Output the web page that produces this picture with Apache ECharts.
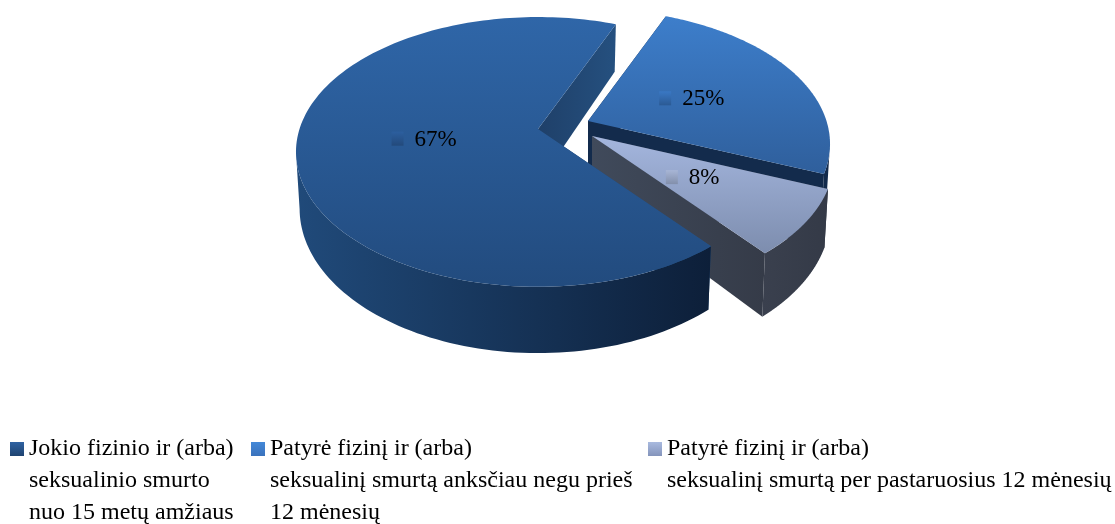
<!DOCTYPE html>
<html>
<head>
<meta charset="utf-8">
<style>
  html, body { margin: 0; padding: 0; background: #fff; }
  #main { width: 1115px; height: 524px; }
</style>
<script src="https://cdn.jsdelivr.net/npm/echarts@6/dist/echarts.min.js"></script>
</head>
<body>
<div id="main"></div>
<script>
// 数据
var sliceValues = [67, 25, 8]
var sliceLabels = ['67%', '25%', '8%']
var legendNames = [
  'Jokio fizinio ir (arba)\nseksualinio smurto\nnuo 15 metų amžiaus',
  'Patyrė fizinį ir (arba)\nseksualinį smurtą anksčiau negu prieš\n12 mėnesių',
  'Patyrė fizinį ir (arba)\nseksualinį smurtą per pastaruosius 12 mėnesių'
]

// 样式
var fontName = '"Liberation Serif", serif'
var topColors = [['#2f66a8', '#224b7e'], ['#3d7ecb', '#2f5f9c'], ['#a4b6de', '#7d8dae']]
var wallColors = [['#204a7a', '#0d1f39'], ['#132b4c', '#132b4c'], ['#3a404e', '#343a47']]
var sideColors = [['#1f4069', '#25507f'], ['#132b4c', '#132b4c'], ['#404a5b', '#353b48']]
var keyColors = [['#2c5f9f', '#234a7b'], ['#3a78c4', '#2b5a94'], ['#a8b6d6', '#828fab']]
var legendColors = [['#2f62a2', '#1f4370'], ['#4488d8', '#3a72bc'], ['#a9badf', '#8494bb']]

// 透视圆盘参数
var apexes = [[538, 129], [588, 121], [592, 136]]
var labelRadius = [0.5, 0.46, 0.5]
var discW = 238.5
var discH = 131
var persp = 0.17
var depth = 55
var bottomScale = 0.985
var firstSliceAngle = 141 // 顺时针，从12点方向
var seriesZ = [3, 1, 2]
var legendLeft = [10, 251, 648]
var firstLineY = 449
var legendLineH = 32

var chart = echarts.init(document.getElementById('main'))

function gradV(c) {
  return new echarts.graphic.LinearGradient(0, 0, 0, 1, [
    { offset: 0, color: c[0] },
    { offset: 1, color: c[1] }
  ])
}
function gradH(c) {
  return new echarts.graphic.LinearGradient(0, 0, 1, 0, [
    { offset: 0, color: c[0] },
    { offset: 1, color: c[1] }
  ])
}

// 圆盘上一点（半径比 r，角度 t）投影到屏幕
function topPoint(apex, r, t) {
  var s = 1 + persp * r * Math.sin(t)
  return [apex[0] + discW * r * Math.cos(t) / s, apex[1] - discH * r * Math.sin(t) / s]
}
function bottomPoint(apex, r, t) {
  var s = 1 + persp * r * Math.sin(t)
  var p = topPoint(apex, r, t)
  return [apex[0] + (p[0] - apex[0]) * bottomScale, p[1] + depth / s]
}
function arcAngles(t0, t1) {
  var list = []
  var n = 160
  for (var i = 0; i <= n; i++) {
    list.push(t0 + (t1 - t0) * i / n)
  }
  return list
}

var total = sliceValues.reduce(function (a, b) { return a + b }, 0)

function sliceStart(index) {
  var before = 0
  for (var i = 0; i < index; i++) before += sliceValues[i]
  return (90 - firstSliceAngle - before / total * 360) * Math.PI / 180
}

function renderSlice(index) {
  return function (params, api) {
    var a0 = sliceStart(index)
    var a1 = a0 - api.value(0) / total * 2 * Math.PI
    var apex = apexes[index]
    var mid = (a0 + a1) / 2
    var angles = arcAngles(a0, a1)
    var onTop = function (t) { return topPoint(apex, 1, t) }
    var onBottom = function (t) { return bottomPoint(apex, 1, t) }
    var topArc = angles.map(onTop)
    // 只画朝前的外圈，到左右最宽处为止
    var front = angles.filter(function (t) { return Math.sin(t) <= -persp })
    var frontTop = front.map(onTop)
    var frontBottom = front.map(onBottom).reverse()
    var apexB = bottomPoint(apex, 0, 0)
    var lab = topPoint(apex, labelRadius[index], mid)
    var children = [
      // 两个径向侧面
      {
        type: 'polygon',
        shape: { points: [apex, onTop(a0), onBottom(a0), apexB] },
        style: { fill: gradH(sideColors[index]) }
      },
      {
        type: 'polygon',
        shape: { points: [apex, onTop(a1), onBottom(a1), apexB] },
        style: { fill: gradH(sideColors[index]) }
      },
      // 外圈侧面
      {
        type: 'polygon',
        shape: { points: frontTop.concat(frontBottom) },
        style: { fill: gradH(wallColors[index]) }
      },
      // 顶面
      {
        type: 'polygon',
        shape: { points: [apex].concat(topArc) },
        style: { fill: gradV(topColors[index]) }
      },
      // 标签
      {
        type: 'rect',
        shape: { x: lab[0] - 27, y: lab[1] - 7, width: 12, height: 14 },
        style: { fill: gradV(keyColors[index]) }
      },
      {
        type: 'text',
        style: {
          x: lab[0] - 4,
          y: lab[1] + 1,
          text: sliceLabels[index],
          fill: '#000',
          font: '23px ' + fontName,
          textAlign: 'left',
          textVerticalAlign: 'middle'
        }
      }
    ]
    return { type: 'group', children: children }
  }
}

var series = sliceValues.map(function (v, i) {
  return {
    name: legendNames[i],
    type: 'custom',
    coordinateSystem: 'none',
    z: seriesZ[i],
    silent: true,
    animation: false,
    itemStyle: { color: gradV(legendColors[i]) },
    renderItem: renderSlice(i),
    data: [[v]]
  }
})

var legends = legendNames.map(function (name, i) {
  var lines = name.split('\n').length
  return {
    left: legendLeft[i],
    top: firstLineY - (2 * lines - 1) * legendLineH / 2,
    padding: 0,
    icon: 'rect',
    itemWidth: 14,
    itemHeight: 14,
    selectedMode: false,
    data: [name],
    // 前面补空行，让色块对齐第一行文字
    formatter: function (n) {
      return new Array(lines).join('\n') + n
    },
    textStyle: {
      color: '#000',
      fontFamily: fontName,
      fontSize: 24,
      lineHeight: legendLineH
    }
  }
})

chart.setOption({
  backgroundColor: '#fff',
  animation: false,
  legend: legends,
  series: series
})
</script>
</body>
</html>
